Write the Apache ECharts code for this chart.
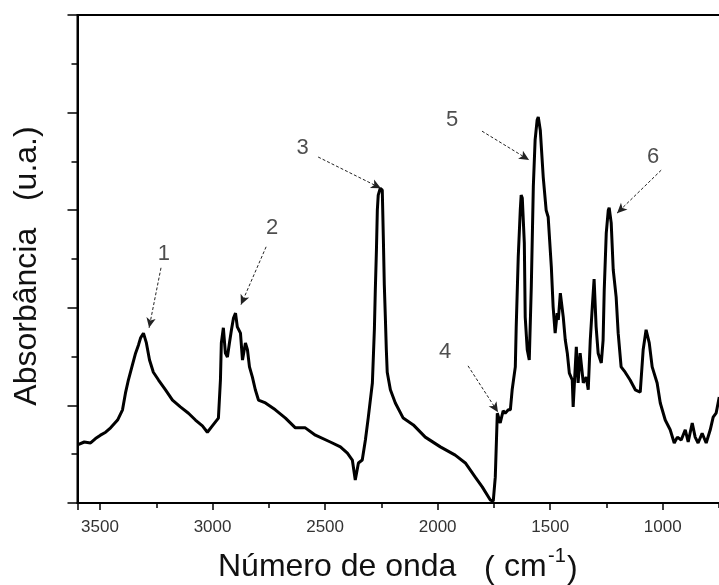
<!DOCTYPE html>
<html>
<head>
<meta charset="utf-8">
<script src="https://cdn.jsdelivr.net/npm/echarts@6/dist/echarts.min.js"></script>
<style>html,body{margin:0;padding:0;background:#fff;overflow:hidden;}#c{width:719px;height:585px;}</style>
</head>
<body>
<div id="c"></div>
<script>
// Wavenumber (cm-1) and absorbance (a.u.)
const wavenumbers = [3600,3570,3542,3520,3498,3475,3453,3422,3400,3387,3374,3356,3342,3329,3320,3307,3294,3280,3263,3240,3209,3178,3143,3107,3076,3045,3023,3001,2974,2965,2961,2952,2943,2934,2925,2916,2907,2898,2890,2876,2867,2854,2845,2836,2823,2810,2796,2765,2721,2676,2632,2588,2543,2477,2432,2401,2379,2366,2352,2335,2321,2308,2290,2281,2277,2272,2268,2264,2255,2246,2241,2237,2232,2228,2224,2210,2188,2153,2108,2055,1988,1922,1877,1833,1802,1766,1753,1744,1735,1722,1709,1700,1686,1677,1669,1655,1651,1642,1633,1629,1624,1615,1611,1602,1593,1584,1575,1567,1558,1553,1544,1531,1518,1509,1495,1487,1478,1469,1464,1455,1442,1433,1424,1415,1402,1398,1384,1376,1367,1353,1340,1331,1322,1313,1305,1296,1287,1273,1265,1260,1251,1242,1238,1229,1220,1207,1198,1185,1167,1145,1122,1100,1087,1074,1060,1047,1025,1011,989,967,949,935,918,900,887,869,856,843,825,807,789,776,763,749];
const absorbance = [1.19,1.25,1.23,1.32,1.39,1.45,1.54,1.70,1.91,2.25,2.52,2.83,3.07,3.24,3.38,3.48,3.28,2.93,2.68,2.52,2.32,2.11,1.97,1.84,1.70,1.58,1.45,1.58,1.74,2.52,3.28,3.59,3.07,2.99,3.28,3.55,3.79,3.89,3.61,3.48,2.93,3.28,3.14,2.79,2.58,2.32,2.11,2.05,1.91,1.74,1.54,1.54,1.39,1.25,1.15,1.02,0.88,0.47,0.82,0.88,1.29,1.76,2.46,3.57,4.36,5.18,6.00,6.31,6.45,6.41,5.37,4.47,3.75,3.14,2.68,2.32,2.05,1.74,1.60,1.35,1.15,0.98,0.82,0.53,0.33,0.06,0.04,0.53,1.84,1.64,1.89,1.84,1.91,1.91,2.32,2.79,3.61,5.04,6.00,6.31,6.25,5.33,3.81,3.14,2.93,4.43,6.48,7.44,7.85,7.91,7.64,6.68,6.00,5.86,4.84,4.02,3.48,3.89,3.75,4.30,3.81,3.34,3.07,2.66,2.52,1.97,3.20,2.46,3.07,2.46,2.58,2.32,3.34,4.02,4.59,3.61,3.07,2.87,3.34,4.36,5.53,6.00,6.05,5.74,4.78,4.22,3.48,2.79,2.68,2.52,2.32,2.27,3.14,3.55,3.28,2.79,2.46,2.05,1.70,1.50,1.23,1.35,1.29,1.50,1.25,1.64,1.35,1.23,1.43,1.23,1.50,1.76,1.84,2.17];

// Peak annotations: label position, arrow start, arrow end (data units)
const peakLabels = ['1','2','3','4','5','6'];
const labelPos   = [[3216,5.10],[2735,5.64],[2600,7.27],[1967,3.09],[1936,7.85],[1043,7.09]];
const arrowFrom  = [[3229,4.82],[2762,5.25],[2531,7.09],[1865,2.81],[1803,7.62],[1007,6.82]];
const arrowTo    = [[3282,3.59],[2874,4.06],[2252,6.45],[1732,1.86],[1594,7.03],[1203,5.94]];

const xTicks = [3500,3000,2500,2000,1500,1000];

const FONT = "'Liberation Sans', Arial, sans-serif";
const chart = echarts.init(document.getElementById('c'), null, {renderer:'canvas'});

const lineData = wavenumbers.map((w,i)=>[w, absorbance[i]]);

chart.setOption({
  animation:false,
  backgroundColor:'#fff',
  grid:{left:77.5, top:15, height:488, width:697.8, show:true, borderColor:'#000', borderWidth:2,
        backgroundColor:'transparent', outerBoundsMode:'none', containLabel:false},
  xAxis:{
    type:'value', min:500, max:3600, interval:500, inverse:true,
    axisLine:{show:true, lineStyle:{color:'#000', width:2}},
    axisTick:{show:true, inside:false, length:7, lineStyle:{color:'#000', width:1.5}},
    minorTick:{show:true, splitNumber:2, length:5, lineStyle:{color:'#000', width:1.5}},
    splitLine:{show:false}, minorSplitLine:{show:false},
    axisLabel:{show:true, margin:16, fontSize:17, color:'#333', fontFamily:FONT,
      formatter:function(v){ return xTicks.indexOf(v)>=0 ? String(v) : ''; }}
  },
  yAxis:{
    type:'value', min:0, max:10, interval:2,
    axisLine:{show:true, lineStyle:{color:'#000', width:2}},
    axisTick:{show:true, inside:false, length:10, lineStyle:{color:'#000', width:1.5}},
    minorTick:{show:true, splitNumber:2, length:6, lineStyle:{color:'#000', width:1.5}},
    splitLine:{show:false}, minorSplitLine:{show:false},
    axisLabel:{show:false}
  },
  series:[
    {
      type:'line', data:lineData, showSymbol:false, symbol:'none',
      lineStyle:{color:'#000', width:3}, clip:true,
      markLine:{
        silent:true, symbol:['none','arrow'], symbolSize:[7,10],
        label:{show:false},
        lineStyle:{color:'#222', width:1, type:[3,2]},
        data: arrowFrom.map((f,i)=>[{coord:f},{coord:arrowTo[i]}])
      }
    },
    {
      type:'scatter', symbolSize:1, itemStyle:{color:'rgba(0,0,0,0)'},
      data: labelPos.map((p,i)=>[p[0],p[1],peakLabels[i]]),
      label:{show:true, position:'inside', formatter:function(p){return p.data[2];},
        fontSize:22, color:'#222', fontFamily:FONT}
    }
  ],
  graphic:[
    {type:'text', x:27, y:266, rotation:Math.PI/2,
      style:{text:'Absorbância   (u.a.)', font:'32px '+FONT, fill:'#111', textAlign:'center', textVerticalAlign:'middle'}},
    {type:'text', x:218, y:567,
      style:{text:'Número de onda', font:'32px '+FONT, fill:'#111', textAlign:'left', textVerticalAlign:'middle'}},
    {type:'text', x:484, y:569,
      style:{text:'(', font:'32px '+FONT, fill:'#111', textAlign:'left', textVerticalAlign:'middle'}},
    {type:'text', x:504, y:567,
      style:{text:'cm', font:'32px '+FONT, fill:'#111', textAlign:'left', textVerticalAlign:'middle'}},
    {type:'text', x:548, y:556,
      style:{text:'-1', font:'20px '+FONT, fill:'#111', textAlign:'left', textVerticalAlign:'middle'}},
    {type:'text', x:567, y:569,
      style:{text:')', font:'32px '+FONT, fill:'#111', textAlign:'left', textVerticalAlign:'middle'}}
  ]
});
</script>
</body>
</html>
